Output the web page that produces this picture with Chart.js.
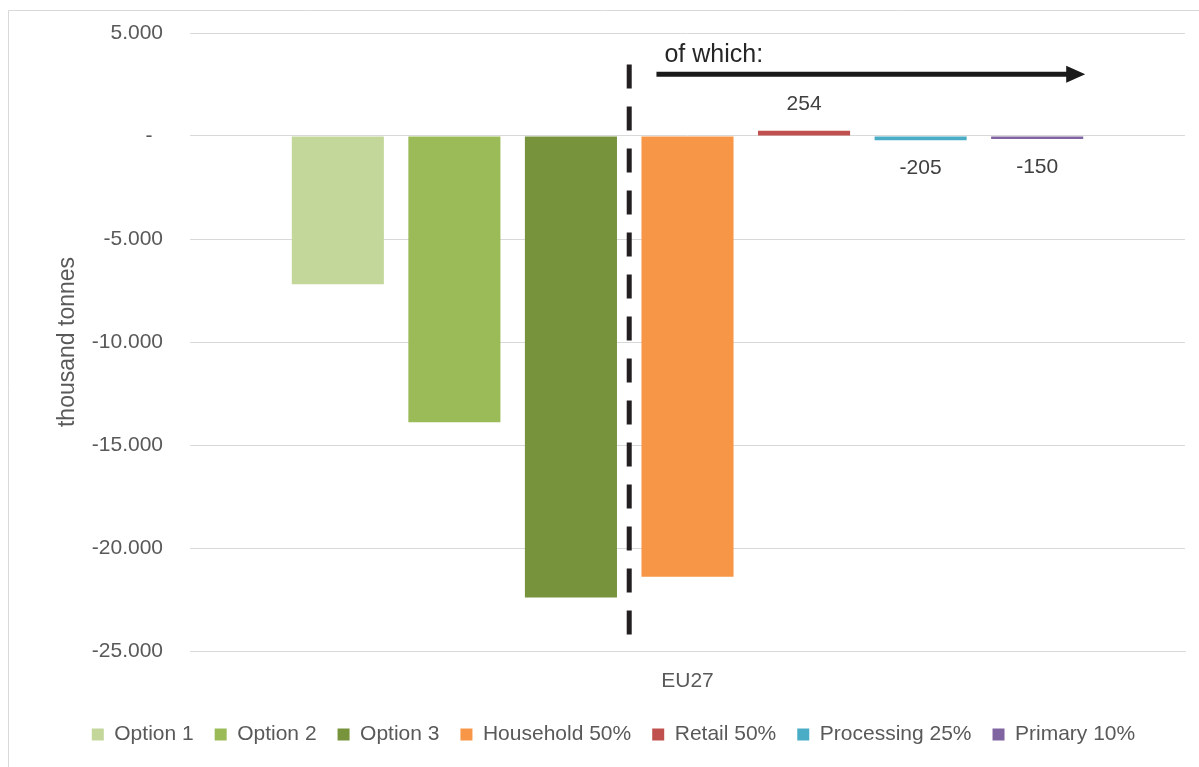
<!DOCTYPE html>
<html>
<head>
<meta charset="utf-8">
<script src="https://cdn.jsdelivr.net/npm/chart.js@4/dist/chart.umd.min.js"></script>
<style>
  html, body { margin: 0; padding: 0; background: #ffffff; overflow: hidden; }
  canvas { display: block; }
</style>
</head>
<body>
<canvas id="chart" width="1199" height="767"></canvas>
<script>
// Food waste reduction by option and by stage of the supply chain (EU27)
const categories = ['EU27'];
const seriesNames = ['Option 1', 'Option 2', 'Option 3', 'Household 50%', 'Retail 50%', 'Processing 25%', 'Primary 10%'];
const seriesValues = [-7200, -13900, -22400, -21400, 254, -205, -150];
const seriesColors = ['#c4d79b', '#9bbb59', '#77933c', '#f79646', '#c0504d', '#4bacc6', '#8064a2'];
const labelledSeries = [false, false, false, false, true, true, true];
const yMin = -25000;
const yMax = 5000;
const yStep = 5000;
const axisTitle = 'thousand tonnes';
const breakdownNote = 'of which:';

const FONT = '"Liberation Sans", Arial, sans-serif';
const GREY = '#595959';

// Excel-style number format: dot as thousands separator, dash for zero
function formatThousands(v) {
  if (v === 0) return '-\u2002';
  const s = Math.abs(v).toString().replace(/\B(?=(\d{3})+(?!\d))/g, '.');
  return (v < 0 ? '-' : '') + s;
}

const datasets = seriesNames.map((name, i) => ({
  label: name,
  data: [seriesValues[i]],
  backgroundColor: seriesColors[i],
  borderWidth: 0,
  categoryPercentage: 0.82,
  barPercentage: 0.79
}));

// Frame, value labels, separator line and "of which" arrow
const decorations = {
  id: 'decorations',
  afterLayout(chart) {
    // nudge the legend row slightly to the right
    if (chart.legend) {
      chart.legend.left += 17;
      chart.legend.right += 17;
    }
  },
  beforeDraw(chart) {
    const ctx = chart.ctx;
    ctx.save();
    ctx.strokeStyle = '#d9d9d9';
    ctx.lineWidth = 1;
    ctx.beginPath();
    ctx.moveTo(8.5, chart.height);
    ctx.lineTo(8.5, 10.5);
    ctx.lineTo(chart.width, 10.5);
    ctx.stroke();
    ctx.restore();
  },
  afterDatasetsDraw(chart) {
    const ctx = chart.ctx;
    const y = chart.scales.y;
    const bars = chart.data.datasets.map((d, i) => chart.getDatasetMeta(i).data[0]);

    // value labels on the breakdown bars
    ctx.save();
    ctx.font = '21px ' + FONT;
    ctx.fillStyle = '#404040';
    ctx.textAlign = 'center';
    ctx.textBaseline = 'alphabetic';
    bars.forEach((bar, i) => {
      if (!labelledSeries[i]) return;
      const v = seriesValues[i];
      const top = Math.min(bar.y, bar.base);
      const bottom = Math.max(bar.y, bar.base);
      const ty = v >= 0 ? top - 21 : bottom + 34;
      ctx.fillText(formatThousands(v), bar.x, ty);
    });
    ctx.restore();

    // dashed separator between the options and the breakdown
    const b3 = bars[2], b4 = bars[3];
    const sepX = ((b3.x + b3.width / 2) + (b4.x - b4.width / 2)) / 2;
    ctx.save();
    ctx.strokeStyle = '#231f20';
    ctx.lineWidth = 5;
    ctx.setLineDash([24, 18]);
    ctx.beginPath();
    ctx.moveTo(sepX, y.getPixelForValue(3470));
    ctx.lineTo(sepX, y.getPixelForValue(-24200));
    ctx.stroke();
    ctx.restore();

    // arrow spanning the breakdown bars
    const last = bars[bars.length - 1];
    const x0 = b4.x - b4.width / 2 + 15;
    const x1 = last.x + last.width / 2 + 2;
    const ay = y.getPixelForValue(3000);
    ctx.save();
    ctx.strokeStyle = '#1a1a1a';
    ctx.fillStyle = '#1a1a1a';
    ctx.lineWidth = 5;
    ctx.beginPath();
    ctx.moveTo(x0, ay);
    ctx.lineTo(x1 - 16, ay);
    ctx.stroke();
    ctx.beginPath();
    ctx.moveTo(x1, ay);
    ctx.lineTo(x1 - 19, ay - 8.5);
    ctx.lineTo(x1 - 19, ay + 8.5);
    ctx.closePath();
    ctx.fill();

    ctx.font = '25px ' + FONT;
    ctx.textAlign = 'left';
    ctx.textBaseline = 'alphabetic';
    ctx.fillStyle = '#262626';
    ctx.fillText(breakdownNote, x0 + 8, ay - 12);
    ctx.restore();
  }
};

new Chart(document.getElementById('chart'), {
  type: 'bar',
  data: { labels: categories, datasets },
  options: {
    responsive: false,
    animation: false,
    devicePixelRatio: 1,
    layout: { padding: { top: 33, left: 8, right: 14, bottom: 12 } },
    plugins: {
      legend: {
        position: 'bottom',
        labels: {
          font: { family: FONT, size: 21 },
          color: GREY,
          boxWidth: 12,
          boxHeight: 12,
          padding: 21
        }
      },
      tooltip: { enabled: false }
    },
    scales: {
      x: {
        grid: { display: false, drawTicks: false },
        border: { display: true, color: '#d9d9d9' },
        ticks: { font: { family: FONT, size: 21 }, color: GREY, padding: 18 },
        afterFit(scale) { scale.height = 52; }
      },
      y: {
        min: yMin,
        max: yMax,
        ticks: {
          stepSize: yStep,
          font: { family: FONT, size: 21 },
          color: GREY,
          padding: 27,
          callback: (v) => formatThousands(v)
        },
        grid: { color: '#d9d9d9', drawTicks: false },
        border: { display: false },
        title: {
          display: true,
          text: axisTitle,
          font: { family: FONT, size: 23 },
          color: GREY,
          padding: { top: 46, bottom: 0 }
        },
        afterFit(scale) {
          scale.width = 182;
          scale.paddingTop = 0;
          scale.paddingBottom = 0;
        }
      }
    }
  },
  plugins: [decorations]
});
</script>
</body>
</html>
